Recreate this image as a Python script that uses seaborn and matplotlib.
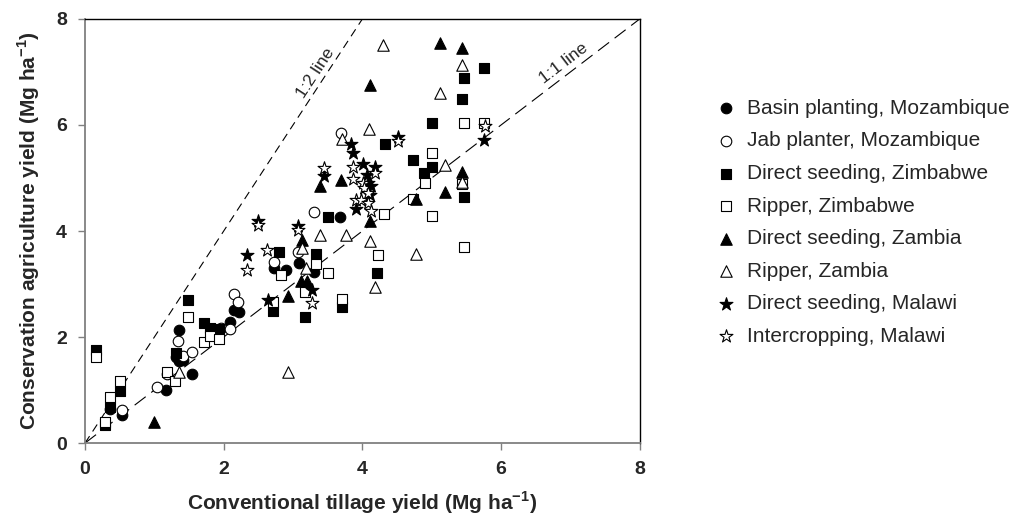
import numpy as np
import pandas as pd
import matplotlib
matplotlib.use("Agg")
import matplotlib.pyplot as plt
import seaborn as sns

sns.set_style("ticks")
plt.rcParams["font.family"] = ["Liberation Sans", "DejaVu Sans"]
plt.rcParams["mathtext.fontset"] = "custom"
plt.rcParams["mathtext.rm"] = "Liberation Sans"
plt.rcParams["mathtext.bf"] = "Liberation Sans:bold"
plt.rcParams["lines.scale_dashes"] = False

# series values (Mg/ha)
basin_x = [0.36, 0.53, 1.17, 1.31, 1.36, 1.42, 1.35, 1.54, 2.09, 2.15, 2.22, 2.73, 2.90, 3.08, 3.30, 3.67]
basin_y = [0.65, 0.53, 1.01, 1.62, 1.55, 1.57, 2.13, 1.30, 2.29, 2.51, 2.48, 3.30, 3.26, 3.39, 3.23, 4.26]

jab_x = [0.53, 1.04, 1.18, 1.34, 1.42, 1.54, 1.96, 2.09, 2.15, 2.21, 2.73, 3.07, 3.30, 3.69]
jab_y = [0.62, 1.05, 1.30, 1.92, 1.64, 1.72, 2.18, 2.15, 2.82, 2.67, 3.42, 3.61, 4.36, 5.85]

zim_ds_x = [0.16, 0.29, 0.36, 0.50, 1.31, 1.48, 1.72, 1.80, 1.93, 2.71, 2.80, 3.17, 3.33, 3.51, 3.71,
            4.21, 4.32, 4.73, 4.89, 5.00, 5.01, 5.43, 5.46, 5.75, 5.46]
zim_ds_y = [1.75, 0.35, 0.68, 0.99, 1.69, 2.69, 2.26, 2.18, 2.15, 2.49, 3.61, 2.37, 3.57, 4.27, 2.56,
            3.21, 5.65, 5.33, 5.09, 5.20, 6.03, 6.48, 6.88, 7.07, 4.65]

zim_rip_x = [0.16, 0.50, 0.36, 0.29, 1.18, 1.30, 1.48, 1.72, 1.80, 1.93, 2.71, 2.82, 3.17, 3.33, 3.51,
             3.71, 4.22, 4.31, 4.73, 4.90, 5.00, 5.00, 5.43, 5.46, 5.46, 5.75]
zim_rip_y = [1.63, 1.17, 0.86, 0.40, 1.35, 1.17, 2.38, 1.91, 2.02, 1.96, 2.67, 3.17, 2.85, 3.38, 3.20,
             2.71, 3.55, 4.33, 4.61, 4.91, 5.47, 4.29, 4.88, 3.70, 6.04, 6.04]

zam_ds_x = [1.00, 2.92, 3.12, 3.20, 3.13, 3.39, 3.69, 4.11, 4.11, 4.77, 5.12, 5.44, 5.44, 5.19]
zam_ds_y = [0.40, 2.77, 3.06, 3.06, 3.83, 4.85, 4.96, 4.19, 6.75, 4.60, 7.55, 7.45, 5.12, 4.74]

zam_rip_x = [1.36, 2.93, 3.13, 3.19, 3.39, 3.76, 4.11, 4.18, 3.70, 4.09, 4.29, 5.12, 5.19, 5.44, 5.44, 4.77]
zam_rip_y = [1.35, 1.35, 3.67, 3.31, 3.93, 3.93, 3.81, 2.94, 5.74, 5.92, 7.51, 6.61, 5.25, 7.13, 4.93, 3.57]

mal_ds_x = [2.33, 2.50, 2.64, 3.07, 3.27, 3.45, 3.84, 3.86, 4.01, 4.18, 4.06, 4.08, 4.13, 4.11, 3.91, 4.51, 5.76]
mal_ds_y = [3.55, 4.19, 2.70, 4.09, 2.89, 5.03, 5.65, 5.48, 5.26, 5.20, 5.06, 4.90, 4.84, 4.68, 4.41, 5.78, 5.72]

mal_ic_x = [2.33, 2.50, 2.63, 3.07, 3.27, 3.45, 3.86, 3.86, 4.18, 4.01, 4.03, 4.08, 3.91, 3.98, 4.08, 4.13, 4.51, 5.77]
mal_ic_y = [3.26, 4.11, 3.65, 4.01, 2.65, 5.18, 5.21, 4.99, 5.09, 4.91, 4.81, 4.71, 4.58, 4.58, 4.53, 4.37, 5.69, 5.98]

ticks = [0, 2, 4, 6, 8]

series = [
    ("Basin planting, Mozambique", basin_x, basin_y, "o", "black", 58),
    ("Jab planter, Mozambique", jab_x, jab_y, "o", "white", 58),
    ("Direct seeding, Zimbabwe", zim_ds_x, zim_ds_y, "s", "black", 52),
    ("Ripper, Zimbabwe", zim_rip_x, zim_rip_y, "s", "white", 52),
    ("Direct seeding, Zambia", zam_ds_x, zam_ds_y, "^", "black", 68),
    ("Ripper, Zambia", zam_rip_x, zam_rip_y, "^", "white", 68),
    ("Direct seeding, Malawi", mal_ds_x, mal_ds_y, "*", "black", 95),
    ("Intercropping, Malawi", mal_ic_x, mal_ic_y, "*", "white", 95),
]

fig = plt.figure(figsize=(10.18, 5.25), dpi=100)
ax = fig.add_axes([0.0835, 0.156, 0.545, 0.808])

# reference lines
ax.plot([0, 8], [0, 8], color="black", lw=0.8, dashes=(10, 5), zorder=1)
ax.plot([0, 4], [0, 8], color="black", lw=0.8, dashes=(6, 4), zorder=1)

for name, xs, ys, mk, fc, size in series:
    df = pd.DataFrame({"x": xs, "y": ys})
    sns.scatterplot(data=df, x="x", y="y", marker=mk, color=fc, edgecolor="black",
                    linewidth=0.8, s=size, label=name, ax=ax, zorder=3)

ax.text(6.9, 7.17, "1:1 line", rotation=45, transform_rotates_text=True,
        ha="center", va="center", rotation_mode="anchor", fontsize=12.5)
ax.text(3.33, 6.98, "1:2 line", rotation=63.43, transform_rotates_text=True,
        ha="center", va="center", rotation_mode="anchor", fontsize=12.5)

ax.set_xlim(0, 8)
ax.set_ylim(0, 8)
ax.set_xticks(ticks)
ax.set_yticks(ticks)
ax.set_xticklabels([str(t) for t in ticks], fontsize=14, fontweight="bold")
ax.set_yticklabels([str(t) for t in ticks], fontsize=14, fontweight="bold")
ax.tick_params(direction="out", length=5, width=1, color="#808080", pad=8)

for side in ["left", "bottom"]:
    ax.spines[side].set_color("#808080")
    ax.spines[side].set_linewidth(1.3)
for side in ["top", "right"]:
    ax.spines[side].set_color("black")
    ax.spines[side].set_linewidth(1.0)

ax.set_xlabel(r"Conventional tillage yield (Mg ha$^{\mathbf{-1}}$)", fontsize=15, fontweight="bold", labelpad=8)
ax.set_ylabel(r"Conservation agriculture yield (Mg ha$^{\mathbf{-1}}$)", fontsize=15, fontweight="bold", labelpad=10)

ax.legend(loc="upper left", bbox_to_anchor=(1.118, 0.831), frameon=False, fontsize=15,
          labelspacing=0.65, handlelength=1.2, handletextpad=0.4, borderaxespad=0)

fig.savefig("out.png", dpi=100)
